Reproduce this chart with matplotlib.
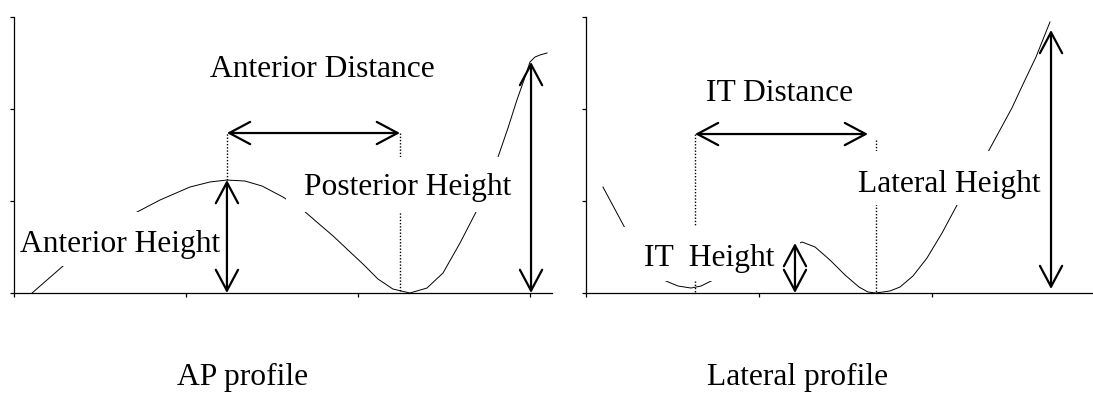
import matplotlib
matplotlib.use('Agg')
import matplotlib.pyplot as plt
from matplotlib.patches import FancyArrowPatch, Rectangle

plt.rcParams['font.family'] = ['Liberation Serif', 'DejaVu Serif']

# profile curves, in axis units (one tick = one unit on both axes)
ap_x = [0.105, 0.285, 0.715, 0.849, 1.023, 1.140, 1.238, 1.343, 1.442, 1.564,
        1.680, 1.767, 1.855, 1.942, 2.029, 2.116, 2.203, 2.302, 2.401, 2.494,
        2.593, 2.692, 2.814, 2.872, 2.924, 2.965, 3.000, 3.029, 3.058, 3.099]
ap_y = [0.000, 0.293, 0.880, 1.011, 1.152, 1.207, 1.228, 1.217, 1.163, 1.043,
        0.902, 0.761, 0.620, 0.467, 0.315, 0.152, 0.043, 0.000, 0.054, 0.217,
        0.543, 0.902, 1.478, 1.793, 2.098, 2.315, 2.511, 2.565, 2.587, 2.609]

lat_x = [0.098, 0.225, 0.462, 0.532, 0.607, 0.665, 0.723, 1.249, 1.324, 1.410,
         1.497, 1.578, 1.630, 1.676, 1.757, 1.815, 1.890, 1.971, 2.058, 2.145,
         2.324, 2.393, 2.462, 2.532, 2.601, 2.682]
lat_y = [1.152, 0.707, 0.130, 0.076, 0.054, 0.076, 0.130, 0.554, 0.500, 0.359,
         0.196, 0.065, 0.011, 0.000, 0.022, 0.065, 0.185, 0.380, 0.652, 0.957,
         1.533, 1.772, 2.011, 2.293, 2.565, 2.946]

# landmarks of the AP profile
ap_ant_x, ap_ant_h = 1.238, 1.228     # anterior peak
ap_post_x = 2.244                      # posterior point
ap_dist_y = 1.739                      # level of the distance arrow
ap_top_x, ap_top_h = 3.006, 2.511      # posterior height arrow

# landmarks of the lateral profile
lat_it_x = 0.630                       # IT point (dotted)
lat_it_arrow_x, lat_it_h = 1.208, 0.543
lat_dist_y, lat_dist_end = 1.728, 1.630
lat_min_x, lat_min_dot_top = 1.676, 1.663
lat_top_x, lat_top_h, lat_bot_h = 2.688, 2.859, 0.043

FS = 22.7
W, H = 1093, 394
fig = plt.figure(figsize=(W / 100, H / 100), dpi=100)


def make_axes(left_px, right_px, xticks, px_per_unit):
    ax = fig.add_axes([left_px / W, (H - 293) / H, (right_px - left_px) / W, 276 / H])
    ax.set_xlim(0, (right_px - left_px) / px_per_unit)
    ax.set_ylim(0, 3)
    ax.set_xticks(xticks)
    ax.set_yticks([0, 1, 2, 3])
    ax.tick_params(length=3, width=0.9, labelleft=False, labelbottom=False)
    for s in ['top', 'right']:
        ax.spines[s].set_visible(False)
    for s in ['left', 'bottom']:
        ax.spines[s].set_linewidth(0.9)
    ax.patch.set_alpha(0)
    return ax


def double_arrow(ax, p0, p1):
    ax.add_patch(FancyArrowPatch(p0, p1, arrowstyle='<->,head_length=15,head_width=8',
                                 mutation_scale=1, lw=1.6, color='k',
                                 shrinkA=0, shrinkB=0, zorder=4, clip_on=False))


def dotted(ax, x, y0, y1):
    ax.plot([x, x], [y0, y1], color='k', lw=1.0, ls=(0, (1, 1.3)), zorder=2)


def box(ax, x0, x1, y0, y1):
    # white text box of the original drawing, hides what lies under it
    ax.add_patch(Rectangle((x0, y0), x1 - x0, y1 - y0, fc='white', ec='none', zorder=3))


# --- AP profile ---
ax1 = make_axes(14, 552, [0, 1, 2, 3], 172)
ax1.plot(ap_x, ap_y, color='k', lw=0.7, zorder=2, clip_on=False)
dotted(ax1, ap_ant_x, ap_ant_h, ap_dist_y)
dotted(ax1, ap_post_x, ap_dist_y, 0)
box(ax1, 0.02, 1.221, 0.293, 0.880)
box(ax1, 1.581, 2.953, 0.880, 1.478)
double_arrow(ax1, (ap_ant_x, 0), (ap_ant_x, ap_ant_h))
double_arrow(ax1, (ap_ant_x, ap_dist_y), (ap_post_x, ap_dist_y))
double_arrow(ax1, (ap_top_x, 0), (ap_top_x, ap_top_h))
ax1.text(1.140, 2.348, 'Anterior Distance', fontsize=FS, va='baseline', zorder=5)
ax1.text(1.686, 1.065, 'Posterior Height', fontsize=FS, va='baseline', zorder=5)
ax1.text(0.035, 0.446, 'Anterior Height', fontsize=FS, va='baseline', zorder=5)

# --- Lateral profile ---
ax2 = make_axes(586, 1093, [0, 1, 2], 173)
ax2.plot(lat_x, lat_y, color='k', lw=0.7, zorder=2, clip_on=False)
dotted(ax2, lat_it_x, lat_dist_y, 0)
dotted(ax2, lat_min_x, lat_min_dot_top, 0)
box(ax2, 0.208, 1.237, 0.130, 0.717)
box(ax2, 1.538, 2.653, 0.957, 1.543)
double_arrow(ax2, (lat_it_arrow_x, 0), (lat_it_arrow_x, lat_it_h))
double_arrow(ax2, (lat_it_x, lat_dist_y), (lat_dist_end, lat_dist_y))
double_arrow(ax2, (lat_top_x, lat_bot_h), (lat_top_x, lat_top_h))
ax2.text(0.694, 2.087, 'IT Distance', fontsize=FS, va='baseline', zorder=5)
ax2.text(1.572, 1.098, 'Lateral Height', fontsize=FS, va='baseline', zorder=5)
ax2.text(0.335, 0.293, 'IT  Height', fontsize=FS, va='baseline', zorder=5)

fig.text(177 / W, 1 - 385 / H, 'AP profile', fontsize=FS, va='baseline')
fig.text(707 / W, 1 - 385 / H, 'Lateral profile', fontsize=FS, va='baseline')

fig.savefig('out.png', dpi=100, facecolor='white')
